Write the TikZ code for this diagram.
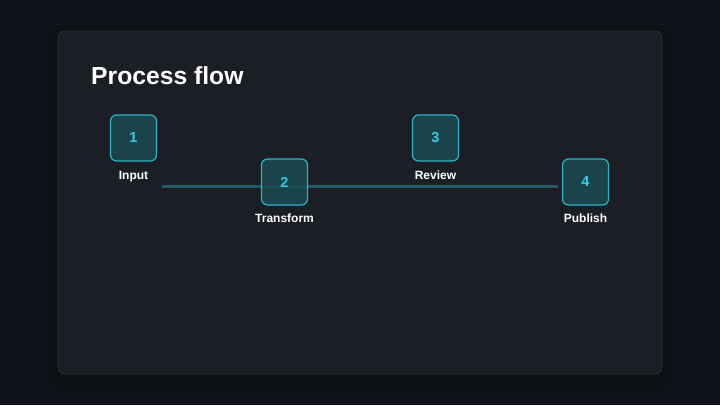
\documentclass[tikz,border=0pt]{standalone}
\usepackage{fontspec}
\setmainfont{Liberation Sans}
\usetikzlibrary{calc}
\definecolor{bgc}{HTML}{0F131A}
\definecolor{cardc}{HTML}{1B1E24}
\definecolor{cardb}{HTML}{2C3038}
\definecolor{boxf}{HTML}{1C4A54}
\definecolor{boxb}{HTML}{2BB3C6}
\definecolor{numc}{HTML}{34CBE3}
\definecolor{linec}{HTML}{215A68}
\tikzset{
  stepbox/.style={draw=boxb, line width=1.2pt, fill=boxf, fill opacity=0.85, text opacity=1, rounded corners=6pt, minimum width=46pt, minimum height=46pt, inner sep=0pt, text=numc, font=\bfseries\fontsize{14.5}{14.5}\selectfont},
  steplabel/.style={anchor=base, text=white, font=\bfseries\fontsize{12}{12}\selectfont, inner sep=0pt},
}
\begin{document}
\begin{tikzpicture}[x=1pt,y=-1pt]
\fill[bgc] (0,0) rectangle (720,405);
\useasboundingbox (0,0) rectangle (720,405);
% soft shadow
\foreach \i/\o in {12/0.04,8/0.05,4/0.06}{
  \fill[black, opacity=\o, rounded corners=10pt] (58-\i,31-\i+6) rectangle (662+\i,374+\i+6);
}
\node[draw=cardb, fill=cardc, line width=0.8pt, rounded corners=7pt, minimum width=604pt, minimum height=343pt, inner sep=0pt] (card) at (360,202.5) {};
\node[anchor=base west, text=white, font=\bfseries\fontsize{24.7}{24.7}\selectfont, inner sep=0pt] (title) at (91,84.5) {Process flow};
% line behind boxes
\coordinate (ls) at (162,186);
\coordinate (le) at (558,186);
\node[stepbox] (b1) at (133.5,138) {1};
\node[stepbox] (b3) at (435.5,138) {3};
\node[stepbox] (b4) at (585.5,182) {4};
\draw[linec, line width=3pt] (ls) -- (le);
\node[stepbox] (b2) at (284.5,182) {2};
\node[steplabel] (l1) at (133.5,179.5) {Input};
\node[steplabel] (l2) at (284.5,222.5) {Transform};
\node[steplabel] (l3) at (435.5,179.5) {Review};
\node[steplabel] (l4) at (585.5,222.5) {Publish};
\end{tikzpicture}
\end{document}
